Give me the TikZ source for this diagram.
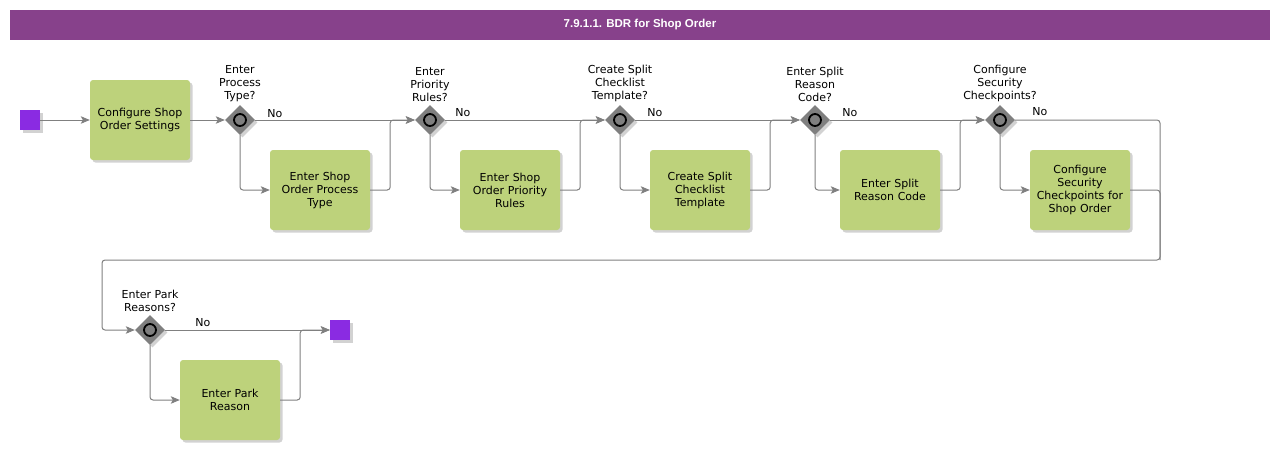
\documentclass[tikz,border=0pt]{standalone}
\usepackage{fontspec}
\setmainfont{DejaVu Sans}
\newfontfamily\headfont{Liberation Sans}
\usetikzlibrary{arrows.meta,positioning,shapes.geometric,shadows}
\definecolor{titlebg}{HTML}{87418B}
\definecolor{taskbg}{HTML}{BDD27B}
\definecolor{evtbg}{HTML}{8A2BE2}
\definecolor{flow}{HTML}{808080}
\definecolor{gatebg}{HTML}{7F7F7F}

\begin{document}
\begin{tikzpicture}[x=1pt,y=-1pt,
  font=\fontsize{11}{13}\selectfont,
  shade/.style={drop shadow={shadow xshift=2.5pt,shadow yshift=-2.5pt,fill=black!35,opacity=.5}},
  task/.style={fill=taskbg,rounded corners=3pt,minimum width=100pt,minimum height=80pt,
               text width=96pt,align=center,inner sep=0pt,shade},
  event/.style={fill=evtbg,minimum size=20pt,inner sep=0pt,shade},
  gate/.style={diamond,fill=gatebg,minimum width=30pt,minimum height=30pt,inner sep=0pt,shade},
  ring/.style={circle,draw=black,line width=1.8pt,fill=gatebg,minimum size=12pt,inner sep=0pt},
  ask/.style={align=center,inner sep=1pt},
  no/.style={anchor=base west,inner sep=0pt},
  arr/.style={draw=flow,line width=1pt,rounded corners=3pt,-{Stealth[length=9pt,width=7.5pt,inset=2pt]}},
  line/.style={draw=flow,line width=1pt,rounded corners=3pt}]

\useasboundingbox (0,0) rectangle (1280,450);

\node[fill=titlebg,minimum width=1260pt,minimum height=30pt,inner sep=0pt,text=white,
      font=\headfont\fontsize{11.5}{13}\selectfont\bfseries] (title) at (640,25) {7.9.1.1. BDR for Shop Order};

% first row
\node[event] (start) at (30,120) {};
\node[task] (cfg) at (140,120) {Configure Shop\\Order Settings};

\node[gate] (gw1) at (240,120) {};
\node[ring] (c1) at (gw1) {};
\node[ask,above=2pt of gw1] (q1) {Enter\\Process\\Type?};
\node[task] (t1) at (320,190) {Enter Shop\\Order Process\\Type};

\node[gate] (gw2) at (430,120) {};
\node[ring] (c2) at (gw2) {};
\node[ask,above=2pt of gw2] (q2) {Enter\\Priority\\Rules?};
\node[task] (t2) at (510,190) {Enter Shop\\Order Priority\\Rules};

\node[gate] (gw3) at (620,120) {};
\node[ring] (c3) at (gw3) {};
\node[ask,above=2pt of gw3] (q3) {Create Split\\Checklist\\Template?};
\node[task] (t3) at (700,190) {Create Split\\Checklist\\Template};

\node[gate] (gw4) at (815,120) {};
\node[ring] (c4) at (gw4) {};
\node[ask,above=2pt of gw4] (q4) {Enter Split\\Reason\\Code?};
\node[task] (t4) at (890,190) {Enter Split\\Reason Code};

\node[gate] (gw5) at (1000,120) {};
\node[ring] (c5) at (gw5) {};
\node[ask,above=2pt of gw5] (q5) {Configure\\Security\\Checkpoints?};
\node[task] (t5) at (1080,190) {Configure\\Security\\Checkpoints for\\Shop Order};

% second row
\node[gate] (gw6) at (150,330) {};
\node[ring] (c6) at (gw6) {};
\node[ask,above=2pt of gw6] (q6) {Enter Park\\Reasons?};
\node[task] (t6) at (230,400) {Enter Park\\Reason};
\node[event] (finish) at (340,330) {};

\coordinate (wrap) at (1160,260);
\coordinate (back) at (102,260);

% labels on the "No" branches
\node[no] (no1) at ([xshift=12pt,yshift=3pt]gw1.east) {No};
\node[no] (no2) at ([xshift=10pt,yshift=4pt]gw2.east) {No};
\node[no] (no3) at ([xshift=12pt,yshift=4pt]gw3.east) {No};
\node[no] (no4) at ([xshift=12pt,yshift=4pt]gw4.east) {No};
\node[no] (no5) at ([xshift=17pt,yshift=5pt]gw5.east) {No};
\node[no] (no6) at ([xshift=30pt,yshift=4pt]gw6.east) {No};

\draw[arr] (start) -- (cfg);
\draw[arr] (cfg) -- (gw1);

\draw[arr] (gw1) -- (gw2);
\draw[arr] (gw1.south) |- (t1.west);
\draw[arr] (t1.east) -- ++(20,0) |- (gw2.west);

\draw[arr] (gw2) -- (gw3);
\draw[arr] (gw2.south) |- (t2.west);
\draw[arr] (t2.east) -- ++(20,0) |- (gw3.west);

\draw[arr] (gw3) -- (gw4);
\draw[arr] (gw3.south) |- (t3.west);
\draw[arr] (t3.east) -- ++(20,0) |- (gw4.west);

\draw[arr] (gw4) -- (gw5);
\draw[arr] (gw4.south) |- (t4.west);
\draw[arr] (t4.east) -- ++(20,0) |- (gw5.west);

\draw[arr] (gw5.east) -| (wrap) -- (back) |- (gw6.west);
\draw[arr] (gw5.south) |- (t5.west);
\draw[line] (t5.east) -| (wrap);

\draw[arr] (gw6) -- (finish);
\draw[arr] (gw6.south) |- (t6.west);
\draw[arr] (t6.east) -- ++(20,0) |- (finish.west);
\end{tikzpicture}
\end{document}
